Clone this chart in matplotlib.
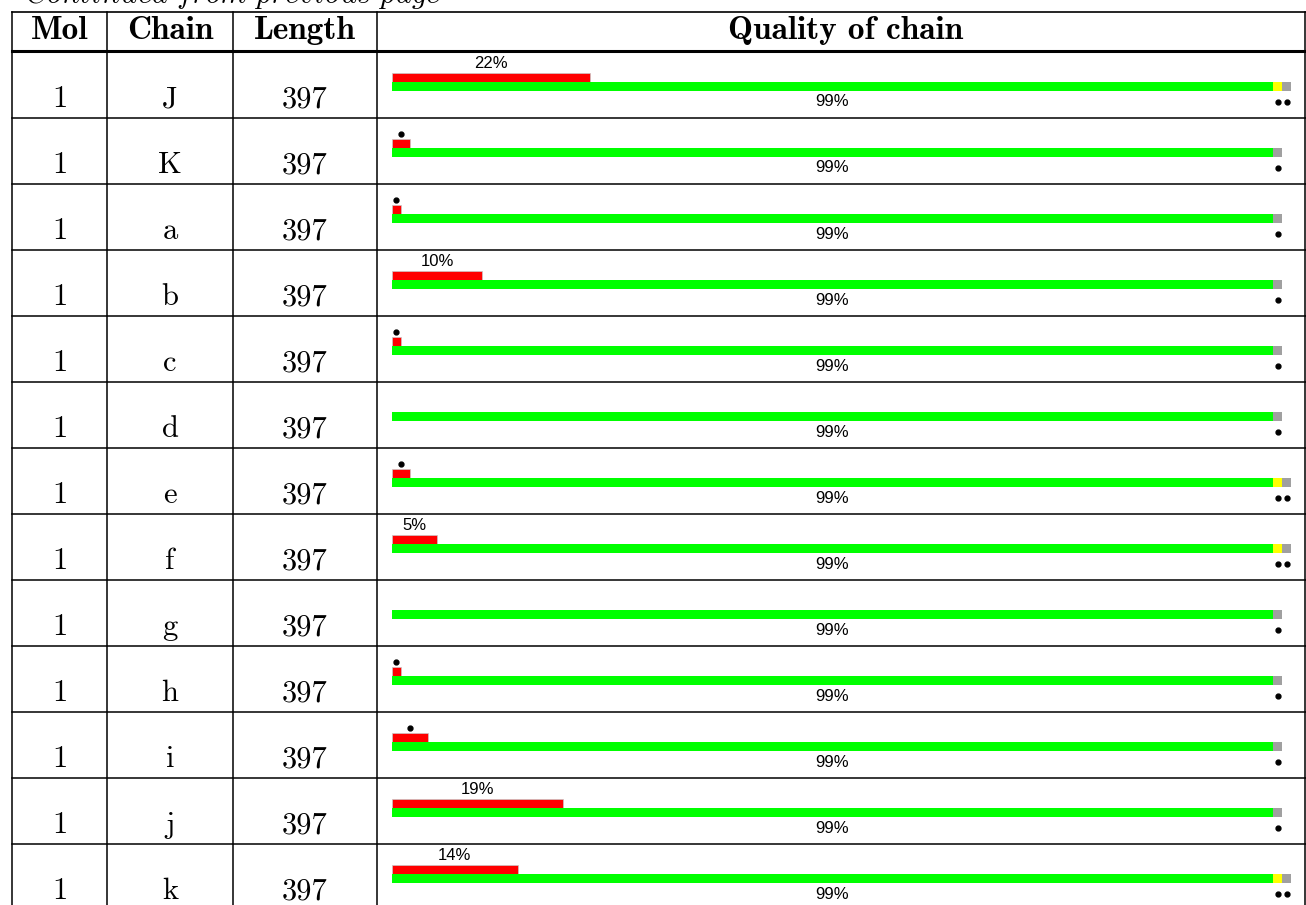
import matplotlib
matplotlib.use('Agg')
import matplotlib.pyplot as plt

plt.rcParams['mathtext.fontset'] = 'cm'

# table data
mols = [1, 1, 1, 1, 1, 1, 1, 1, 1, 1, 1, 1, 1]
chains = ['J', 'K', 'a', 'b', 'c', 'd', 'e', 'f', 'g', 'h', 'i', 'j', 'k']
lengths = [397, 397, 397, 397, 397, 397, 397, 397, 397, 397, 397, 397, 397]

# quality bar segments (percent of chain)
red = [22, 2, 1, 10, 1, 0, 2, 5, 0, 1, 4, 19, 14]
green = [98, 98, 98, 98, 98, 98, 98, 98, 98, 98, 98, 98, 98]
yellow = [1, 0, 0, 0, 0, 0, 1, 1, 0, 0, 0, 0, 1]
grey = [1, 1, 1, 1, 1, 1, 1, 1, 1, 1, 1, 1, 1]
green_labels = ['99%'] * 13

headers = ['Mol', 'Chain', 'Length', 'Quality of chain']

W, H = 1306, 905
fig = plt.figure(figsize=(W / 100, H / 100), dpi=100)

# grid / text axes in pixel units
ax = fig.add_axes([0, 0, 1, 1])
ax.set_xlim(0, W)
ax.set_ylim(H, 0)
ax.axis('off')

# bar axes: x in percent, y in pixels
px_per_pct = 8.99
bar_x0 = 392
ax2 = fig.add_axes([0, 0, 1, 1])
ax2.set_xlim(-bar_x0 / px_per_pct, (W - bar_x0) / px_per_pct)
ax2.set_ylim(H, 0)
ax2.axis('off')

col_lines = [12, 107, 233, 377, 1305]
col_centers = [60, 170, 305, 846]
header_top = 12
header_bot = 51
row_top0 = 52
row_h = 66

serif = 'cmr10'
serif_bold = 'cmb10'
sans = 'Liberation Sans'

# cut-off caption from previous page (only its lower edge shows)
ax.text(25, 3, r'$\mathit{Continued\ from\ previous\ page}$', fontsize=22,
        ha='left', va='baseline', color='black')

# header
ax.plot([12, W], [header_top, header_top], color='black', lw=1.2)
ax.plot([12, W], [header_bot, header_bot], color='black', lw=2.2)
for x, h in zip(col_centers, headers):
    ax.text(x, 39, h, fontsize=24, family=serif_bold, ha='center', va='baseline')

for x in col_lines:
    ax.plot([x, x], [header_top, H], color='black', lw=1.1)

for i in range(len(chains)):
    T = row_top0 + i * row_h
    if i > 0:
        ax.plot([12, W], [T, T], color='black', lw=1.1)
    ax.text(col_centers[0], T + 55, str(mols[i]), fontsize=22, family=serif,
            ha='center', va='baseline')
    ax.text(col_centers[1], T + 55, chains[i], fontsize=22, family=serif,
            ha='center', va='baseline')
    ax.text(col_centers[2], T + 55, str(lengths[i]), fontsize=22, family=serif,
            ha='center', va='baseline')

    # red bar (outliers)
    if red[i] > 0:
        ax2.barh(T + 25.5, red[i], height=9, left=0, color='#ff0000',
                 edgecolor='#c8c8c8', lw=0.5)
        if red[i] >= 5:
            ax2.text(red[i] / 2, T + 11, f'{red[i]}%', fontsize=12, family=sans,
                     ha='center', va='center')
        else:
            ax2.plot(red[i] / 2, T + 16, 'o', color='black', ms=3.5)

    # quality bar
    gy = T + 34.7
    ax2.barh(gy, green[i], height=9.3, left=0, color='#00ff00', lw=0)
    left = green[i]
    dots = []
    if yellow[i] > 0:
        ax2.barh(gy, yellow[i], height=9.3, left=left, color='#ffff00', lw=0)
        dots.append(left + yellow[i] / 2)
        left += yellow[i]
    ax2.barh(gy, grey[i], height=9.3, left=left, color='#a0a0a0', lw=0)
    dots.append(left + grey[i] / 2)
    for d in dots:
        ax2.plot(d, T + 50, 'o', color='black', ms=3.5)
    ax2.text(green[i] / 2, T + 50, green_labels[i], fontsize=12, family=sans,
             ha='center', va='center')

fig.savefig('out.png', dpi=100)
